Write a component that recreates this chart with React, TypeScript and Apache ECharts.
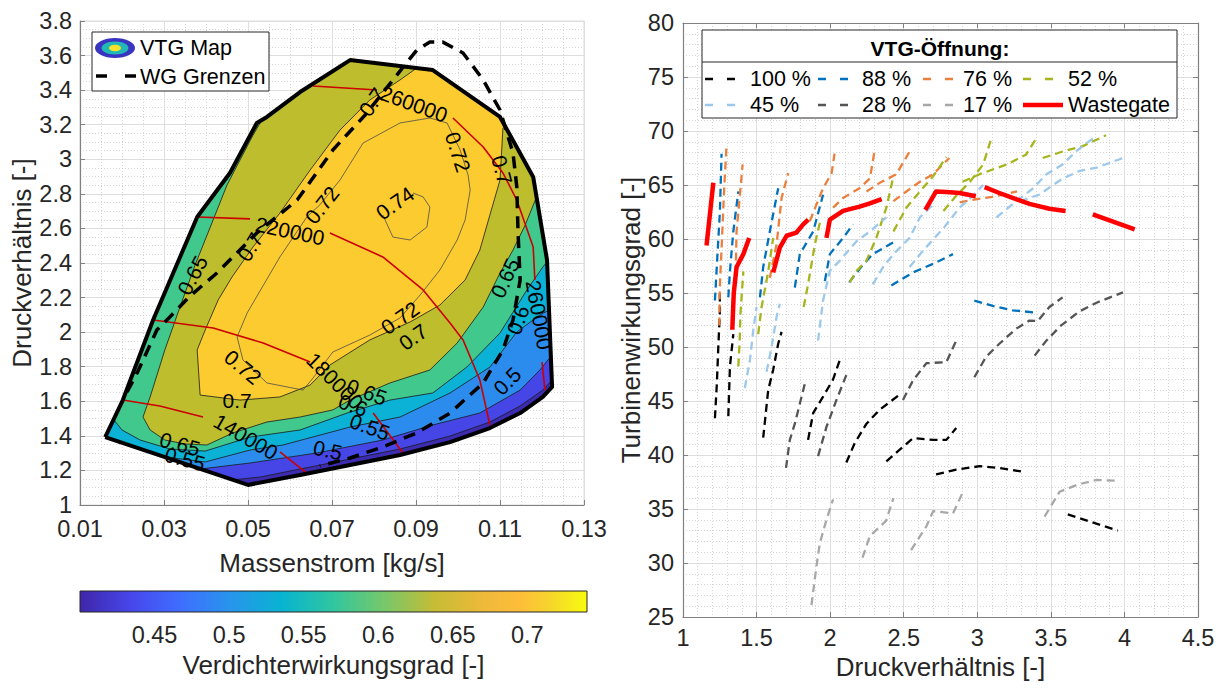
import React, { useEffect, useRef } from "react";
import * as echarts from "echarts";

const FONT = "'Liberation Sans', Arial, Helvetica, sans-serif";
const TXT = "#262626";

// ---------- LEFT: compressor map (Massenstrom [kg/s], Druckverhältnis [-]) ----------
const boundary: number[][] = [
  [0.016, 1.393], [0.0202, 1.607], [0.0274, 2.07], [0.0379, 2.666], [0.0457, 2.921],
  [0.0521, 3.21], [0.0545, 3.245], [0.0624, 3.389], [0.0743, 3.574], [0.094, 3.516],
  [0.11, 3.245], [0.1179, 2.898], [0.1212, 2.417], [0.1224, 1.683], [0.1202, 1.625],
  [0.1148, 1.532], [0.1076, 1.445], [0.0981, 1.364], [0.0862, 1.289], [0.0743, 1.231],
  [0.0624, 1.174], [0.05, 1.116],
];

const line45: number[][] = [
  [0.1224, 1.723], [0.1202, 1.665], [0.1148, 1.573], [0.1076, 1.48], [0.0981, 1.399],
  [0.0862, 1.324], [0.0743, 1.266], [0.0624, 1.208], [0.0529, 1.162], [0.0462, 1.145],
];
const line50: number[][] = [
  [0.1224, 1.868], [0.1195, 1.781], [0.1148, 1.665], [0.1052, 1.532], [0.094, 1.463],
  [0.0821, 1.376], [0.0664, 1.301], [0.0505, 1.243], [0.0386, 1.208],
];
const line55: number[][] = [
  [0.1217, 2.128], [0.1195, 2.099], [0.114, 2.001], [0.1076, 1.798], [0.0981, 1.648],
  [0.0862, 1.509], [0.0743, 1.451], [0.0583, 1.347], [0.0505, 1.318], [0.0398, 1.249],
  [0.0302, 1.278],
];
const line60: number[][] = [
  [0.1212, 2.406], [0.1202, 2.377], [0.1164, 2.244], [0.11, 1.995], [0.1021, 1.798],
  [0.094, 1.648], [0.0838, 1.607], [0.0736, 1.532], [0.0624, 1.434], [0.0505, 1.393],
  [0.0398, 1.312], [0.0314, 1.324], [0.0243, 1.376], [0.02, 1.434], [0.0181, 1.492],
];
const line65: number[][] = [
  [0.1186, 2.776], [0.116, 2.62], [0.1131, 2.475], [0.11, 2.342], [0.106, 2.145],
  [0.0998, 1.937], [0.0933, 1.781], [0.0838, 1.706], [0.0743, 1.607], [0.0702, 1.55],
  [0.0624, 1.509], [0.0545, 1.48], [0.0464, 1.417], [0.0402, 1.347], [0.035, 1.353],
  [0.0302, 1.376], [0.0267, 1.434], [0.025, 1.509], [0.0267, 1.625], [0.0302, 1.897],
  [0.0338, 2.145], [0.0374, 2.388], [0.0417, 2.649], [0.045, 2.851], [0.0481, 2.996],
  [0.0512, 3.14], [0.0533, 3.227],
];
const region70: number[][] = [
  [0.0902, 3.528], [0.094, 3.516], [0.11, 3.245], [0.1107, 3.181], [0.11, 2.88],
  [0.1076, 2.678], [0.1052, 2.475], [0.1017, 2.302], [0.0957, 2.157], [0.0886, 2.059],
  [0.079, 1.955], [0.0695, 1.81], [0.0648, 1.694], [0.0576, 1.625], [0.0481, 1.607],
  [0.0386, 1.636], [0.0379, 1.897], [0.0398, 2.012], [0.0429, 2.186], [0.0462, 2.319],
  [0.0512, 2.493], [0.0576, 2.689], [0.0648, 2.938], [0.0719, 3.169], [0.079, 3.343],
  [0.0862, 3.459],
];
const loop72: number[][] = [
  [0.0498, 2.111], [0.0474, 1.972], [0.0488, 1.839], [0.0545, 1.706], [0.0631, 1.665],
  [0.0655, 1.735], [0.0702, 1.885], [0.079, 1.983], [0.0862, 2.082], [0.091, 2.215],
  [0.0957, 2.36], [0.0998, 2.533], [0.1017, 2.649], [0.1029, 2.822], [0.1024, 2.909],
  [0.1005, 3.054], [0.0974, 3.21], [0.0933, 3.239], [0.0862, 3.21], [0.0774, 3.094],
  [0.0719, 2.88], [0.0671, 2.736], [0.064, 2.666], [0.0576, 2.435], [0.0498, 2.111],
];
const loop74: number[][] = [
  [0.0821, 2.678], [0.0845, 2.55], [0.0886, 2.533], [0.0926, 2.608], [0.0933, 2.724],
  [0.0917, 2.782], [0.0893, 2.805],
];
const wgLimit: number[][] = [
  [0.0212, 1.654], [0.0236, 1.764], [0.0283, 2.012], [0.0314, 2.088], [0.0362, 2.209],
  [0.0426, 2.342], [0.0521, 2.574], [0.0617, 2.764], [0.0702, 3.054], [0.0779, 3.256],
  [0.0845, 3.459], [0.0902, 3.632], [0.0933, 3.678], [0.0964, 3.678], [0.1012, 3.615],
  [0.106, 3.459], [0.11, 3.285], [0.1131, 3.036], [0.114, 2.84], [0.1143, 2.574],
  [0.1148, 2.302], [0.1131, 2.07], [0.1107, 1.897], [0.106, 1.706], [0.0981, 1.532],
  [0.0902, 1.417], [0.0821, 1.336], [0.0743, 1.272], [0.0671, 1.226],
];
const speed140k: number[][][] = [
  [[0.0202, 1.607], [0.029, 1.573], [0.0393, 1.509]],
  [[0.0576, 1.307], [0.064, 1.185]],
];
const speed180k: number[][][] = [
  [[0.0274, 2.07], [0.0417, 2.024], [0.0536, 1.937], [0.0648, 1.827]],
  [[0.0798, 1.532], [0.0869, 1.301]],
];
const speed220k: number[][][] = [
  [[0.0379, 2.666], [0.0505, 2.655]],
  [[0.0695, 2.574], [0.0821, 2.435], [0.0917, 2.244], [0.0981, 2.053], [0.1012, 1.955], [0.1052, 1.723], [0.1076, 1.463]],
];
const speed260k: number[][][] = [
  [[0.0655, 3.424], [0.0807, 3.401]],
  [[0.0988, 3.239], [0.106, 3.071], [0.1107, 2.921], [0.114, 2.764], [0.1179, 2.493], [0.1183, 2.302]],
  [[0.12, 1.827], [0.1207, 1.665]],
];
const mapLabelText = [
  "0.65", "0.7", "0.72", "0.74", "0.7", "0.72", "0.7", "0.72", "0.7", "0.72", "0.7",
  "0.65", "0.55", "0.65", "0.6", "0.55", "0.5", "0.5", "0.65", "0.6",
  "140000", "180000", "220000", "260000", "260000",
];
const mapLabelPos: number[][] = [
  [0.0368, 2.33, 62], [0.0505, 2.493, 58], [0.0676, 2.736, 52], [0.085, 2.747, 35],
  [0.0795, 3.331, 55], [0.1, 3.042, -72], [0.1105, 2.938, -75], [0.0862, 2.082, 35],
  [0.0893, 1.972, 35], [0.0488, 1.798, -40], [0.0474, 1.607, 0],
  [0.0338, 1.353, -15], [0.035, 1.266, -15], [0.0783, 1.654, -20], [0.075, 1.578, -20],
  [0.079, 1.451, -20], [0.069, 1.318, -12], [0.1117, 1.717, 45], [0.1112, 2.313, 65],
  [0.1143, 2.07, 70],
  [0.0495, 1.395, -30], [0.0707, 1.717, -45], [0.06, 2.585, -12], [0.0895, 3.32, -20],
  [0.1193, 2.099, -80],
];
const bandColors = ["#3D2BB0", "#4646E6", "#2B8CEE", "#0BB2D6", "#41C88C", "#BDBD2E", "#FBCB2F"];
const cbarTicks = [0.45, 0.5, 0.55, 0.6, 0.65, 0.7];
const parulaStops: [number, string][] = [
  [0, "#3E26A8"], [0.1, "#4746EB"], [0.2, "#3E6FFF"], [0.3, "#2796EB"], [0.4, "#08B4D0"],
  [0.5, "#31C69F"], [0.6, "#76C86A"], [0.7, "#C6BC35"], [0.8, "#F0B93A"], [0.87, "#FEBE3A"],
  [0.93, "#F5D72A"], [1, "#F9FB0E"],
];

// ---------- RIGHT: turbine efficiency vs pressure ratio ----------
const vtg100: number[][][] = [
  [[1.217, 43.4], [1.23, 46.6], [1.24, 50.0], [1.251, 53.4], [1.25, 55.3]],
  [[1.308, 43.6], [1.319, 48.2], [1.342, 51.2]],
  [[1.545, 41.6], [1.579, 46.0], [1.613, 47.9], [1.647, 50.3], [1.67, 51.4]],
  [[1.85, 41.4], [1.885, 43.9], [1.952, 45.4], [2.02, 47.0], [2.066, 48.8]],
  [[2.11, 39.3], [2.167, 41.1], [2.247, 42.9], [2.337, 44.2], [2.473, 45.6]],
  [[2.382, 39.4], [2.473, 40.5], [2.563, 41.56], [2.7, 41.4], [2.79, 41.4], [2.857, 42.5]],
  [[2.72, 38.2], [2.857, 38.65], [3.016, 38.96], [3.15, 38.8], [3.33, 38.4]],
  [[3.615, 34.5], [3.76, 33.86], [3.955, 33.0]],
];
const vtg88: number[][][] = [
  [[1.217, 54.3], [1.228, 57.0], [1.251, 62.6], [1.262, 67.9]],
  [[1.308, 54.6], [1.319, 57.0], [1.342, 60.7], [1.376, 64.4]],
  [[1.523, 54.6], [1.545, 57.4], [1.59, 60.7], [1.647, 64.7]],
  [[1.76, 55.5], [1.794, 58.6], [1.885, 60.7], [1.952, 64.1]],
  [[1.964, 56.1], [1.998, 58.6], [2.088, 60.1], [2.156, 61.35]],
  [[2.13, 56.0], [2.21, 57.4], [2.29, 58.6], [2.43, 59.7]],
  [[2.416, 55.7], [2.563, 56.9], [2.7, 57.7], [2.835, 58.6]],
  [[2.98, 54.3], [3.106, 53.8], [3.24, 53.4], [3.39, 53.2]],
];
const vtg76: number[][][] = [
  [[1.247, 52.0], [1.25, 55.5], [1.265, 60.0], [1.28, 64.7], [1.296, 68.7]],
  [[1.36, 58.0], [1.364, 60.7], [1.387, 64.1], [1.405, 66.9]],
  [[1.59, 56.4], [1.636, 59.5], [1.67, 63.8], [1.715, 66.1]],
  [[1.862, 61.65], [1.907, 63.2], [1.952, 64.7], [2.01, 66.1], [2.03, 67.9]],
  [[2.02, 62.9], [2.088, 63.8], [2.2, 64.7], [2.27, 65.6], [2.303, 68.25]],
  [[2.247, 64.4], [2.337, 65.2], [2.45, 66.0], [2.54, 68.1]],
  [[2.43, 63.5], [2.518, 64.4], [2.61, 65.3], [2.7, 66.0], [2.81, 67.5]],
  [[2.88, 63.4], [3.0, 63.7], [3.1, 63.9], [3.27, 64.4]],
];
const vtg52: number[][][] = [
  [[1.376, 48.2], [1.385, 50.5], [1.39, 53.0], [1.4, 55.0], [1.41, 57.0]],
  [[1.511, 51.2], [1.534, 53.7], [1.58, 57.05], [1.613, 60.1]],
  [[1.82, 53.7], [1.85, 55.8], [1.896, 59.5], [1.93, 61.5]],
  [[2.133, 56.0], [2.18, 57.05], [2.247, 58.0], [2.314, 60.1], [2.382, 62.9], [2.43, 65.8]],
  [[2.43, 60.7], [2.518, 62.9], [2.61, 64.4], [2.7, 65.8], [2.79, 67.6]],
  [[2.77, 62.6], [2.857, 64.0], [2.95, 65.3], [3.04, 66.9], [3.095, 69.3]],
  [[2.9, 65.3], [3.016, 66.0], [3.2, 66.9], [3.33, 67.8], [3.41, 69.5]],
  [[3.445, 67.5], [3.58, 68.1], [3.717, 68.6], [3.875, 69.6]],
];
const vtg45: number[][][] = [
  [[1.42, 46.2], [1.455, 48.8], [1.477, 51.5], [1.5, 53.7]],
  [[1.568, 47.7], [1.602, 50.0], [1.636, 52.8], [1.658, 54.0]],
  [[1.918, 50.6], [1.952, 54.3], [1.998, 57.05], [2.066, 58.0], [2.18, 59.8], [2.27, 60.7], [2.382, 62.0]],
  [[2.29, 55.8], [2.36, 57.4], [2.43, 58.6], [2.54, 60.1], [2.61, 62.0], [2.7, 63.2]],
  [[2.54, 57.4], [2.63, 58.9], [2.77, 61.0], [2.88, 62.9], [2.97, 64.0], [3.04, 65.0]],
  [[3.13, 62.0], [3.265, 63.5], [3.38, 64.7], [3.47, 66.0], [3.58, 66.9], [3.67, 68.1], [3.785, 69.3]],
  [[3.29, 63.5], [3.42, 64.1], [3.58, 65.6], [3.695, 66.3], [3.81, 66.6], [3.99, 67.5]],
];
const vtg28: number[][][] = [
  [[1.7, 38.8], [1.726, 41.4], [1.76, 42.9], [1.828, 46.6]],
  [[1.918, 39.9], [1.975, 42.6], [2.043, 45.1], [2.11, 47.4]],
  [[2.495, 45.1], [2.563, 46.9], [2.654, 48.5], [2.79, 48.6], [2.857, 50.6]],
  [[2.98, 47.2], [3.06, 49.1], [3.15, 50.3], [3.265, 51.7], [3.355, 52.45], [3.41, 52.4], [3.49, 53.7], [3.58, 54.6]],
  [[3.39, 49.2], [3.47, 50.6], [3.57, 52.0], [3.695, 53.3], [3.81, 54.1], [3.99, 55.06]],
];
const vtg17: number[][][] = [
  [[1.873, 26.1], [1.907, 29.7], [1.93, 31.85], [1.975, 34.0], [2.02, 35.9]],
  [[2.22, 30.5], [2.27, 32.5], [2.38, 33.9], [2.43, 36.0]],
  [[2.55, 31.2], [2.654, 33.4], [2.7, 34.8], [2.835, 34.6], [2.9, 36.5]],
  [[3.457, 34.3], [3.56, 36.6], [3.68, 37.25], [3.81, 37.7], [3.966, 37.6]],
];
const wastegate: number[][][] = [
  [[1.16, 59.4], [1.206, 65.2]],
  [[1.335, 51.6], [1.345, 55.0], [1.364, 57.4], [1.41, 58.6], [1.45, 60.1]],
  [[1.613, 56.9], [1.658, 59.2], [1.704, 60.3], [1.771, 60.6], [1.817, 61.35], [1.851, 61.8]],
  [[1.975, 60.1], [1.998, 61.8], [2.088, 62.6], [2.2, 63.0], [2.27, 63.3], [2.35, 63.7]],
  [[2.647, 62.7], [2.72, 64.4], [2.79, 64.35], [2.88, 64.26], [2.99, 63.96]],
  [[3.05, 64.8], [3.15, 64.26], [3.24, 63.8], [3.355, 63.25], [3.49, 62.8], [3.6, 62.6]],
  [[3.785, 62.27], [4.07, 60.9]],
];
const legendNames = ["100 %", "88 %", "76 %", "52 %", "45 %", "28 %", "17 %", "Wastegate"];
const legendColors = ["#000000", "#0072BD", "#EB7F3C", "#A5B51B", "#9CC8EB", "#555555", "#A8A8A8", "#FF0000"];

function lineSeries(pts: number[][], color: string, width: number, type: any, xi: number, yi: number, z = 5) {
  return {
    type: "line", xAxisIndex: xi, yAxisIndex: yi, data: pts, showSymbol: false, symbol: "none",
    lineStyle: { color, width, type, cap: "butt", join: "round" }, z, silent: true,
  };
}

function buildOption() {
  const regions = [
    boundary,
    [...boundary.slice(0, 13), ...line45],
    [...boundary.slice(0, 13), ...line50],
    [...boundary.slice(0, 13), ...line55],
    [...boundary.slice(1, 13), ...line60],
    [...boundary.slice(6, 12), ...line65],
    region70,
  ];
  const line70 = [...region70.slice(3), region70[0]];
  const series: any[] = [];
  series.push({
    type: "custom", coordinateSystem: "cartesian2d", xAxisIndex: 0, yAxisIndex: 0, silent: true, z: 2,
    data: regions.map((r) => r[0]),
    renderItem: (params: any, api: any) => {
      const r = regions[params.dataIndex];
      return { type: "polygon", shape: { points: r.map((p) => api.coord(p)) }, style: { fill: bandColors[params.dataIndex], stroke: null } };
    },
  });
  [line45, line50, line55, line60, line65, line70].forEach((l) => series.push(lineSeries(l, "#1a1a1a", 0.8, "solid", 0, 0, 3)));
  [loop72, loop74].forEach((l) => series.push(lineSeries(l, "#4d4d4d", 0.8, "solid", 0, 0, 3)));
  [speed140k, speed180k, speed220k, speed260k].forEach((s) => s.forEach((seg) => series.push(lineSeries(seg, "#CC0000", 1.6, "solid", 0, 0, 4))));
  series.push(lineSeries(wgLimit, "#000", 3.5, [12, 8], 0, 0, 6));
  series.push(lineSeries([...boundary, boundary[0]], "#000", 4, "solid", 0, 0, 7));
  series.push({
    type: "custom", coordinateSystem: "cartesian2d", xAxisIndex: 0, yAxisIndex: 0, silent: true, z: 8,
    data: mapLabelPos.map((p) => [p[0], p[1]]),
    renderItem: (params: any, api: any) => {
      const p = mapLabelPos[params.dataIndex];
      const c = api.coord([p[0], p[1]]);
      return {
        type: "text", x: c[0], y: c[1], rotation: (p[2] * Math.PI) / 180,
        style: { text: mapLabelText[params.dataIndex], fill: "#000", fontSize: 21, fontFamily: FONT, align: "center", verticalAlign: "middle", textAlign: "center", textVerticalAlign: "middle" },
      };
    },
  });
  // colorbar
  series.push({
    type: "custom", coordinateSystem: "cartesian2d", xAxisIndex: 2, yAxisIndex: 2, silent: true, z: 2,
    data: [[0.4, 0]],
    renderItem: (params: any, api: any) => {
      const a = api.coord([0.4, 1]);
      const b = api.coord([0.74, 0]);
      return {
        type: "rect", shape: { x: a[0], y: a[1], width: b[0] - a[0], height: b[1] - a[1] },
        style: { fill: new echarts.graphic.LinearGradient(0, 0, 1, 0, parulaStops.map(([o, c]) => ({ offset: o, color: c }))), stroke: "#262626", lineWidth: 1 },
      };
    },
  });
  // right plot
  const groups = [vtg100, vtg88, vtg76, vtg52, vtg45, vtg28, vtg17];
  groups.forEach((g, gi) => g.forEach((c) => series.push(lineSeries(c, legendColors[gi], 2.3, [8, 5], 1, 1, 5))));
  wastegate.forEach((c) => series.push(lineSeries(c, "#FF0000", 4.5, "solid", 1, 1, 6)));

  const TICK = 23.5;
  const TITLE = 26;
  const axisLabel = { color: TXT, fontSize: TICK, fontFamily: FONT };
  const nameStyle = { color: TXT, fontSize: TITLE, fontFamily: FONT };
  const major = { show: true, lineStyle: { color: "#dedede", width: 1 } };
  const minor = { show: true, lineStyle: { color: "#d6d6d6", width: 1, type: [1, 2] } };
  const axLine = { show: true, onZero: false, lineStyle: { color: "#808080", width: 1.2 } };
  const tickIn = { show: true, inside: true, length: 5, lineStyle: { color: "#808080" } };

  const g: any[] = [];
  // left legend
  g.push({ type: "rect", shape: { x: 92, y: 32, width: 177, height: 59 }, style: { fill: "#fff", stroke: "#262626", lineWidth: 1 }, z: 100 });
  g.push({ type: "ellipse", shape: { cx: 115, cy: 48, rx: 20, ry: 10 }, style: { fill: "#3A35C0" }, z: 101 });
  g.push({ type: "ellipse", shape: { cx: 115, cy: 48, rx: 13.5, ry: 6.5 }, style: { fill: "#22B8B8" }, z: 102 });
  g.push({ type: "ellipse", shape: { cx: 115, cy: 48, rx: 6, ry: 3.2 }, style: { fill: "#F5E32A" }, z: 103 });
  g.push({ type: "line", shape: { x1: 96, y1: 76, x2: 107, y2: 76 }, style: { stroke: "#000", lineWidth: 3.5 }, z: 101 });
  g.push({ type: "line", shape: { x1: 125, y1: 76, x2: 136, y2: 76 }, style: { stroke: "#000", lineWidth: 3.5 }, z: 101 });
  g.push({ type: "text", x: 140, y: 48, style: { text: "VTG Map", fill: "#000", fontSize: 21.5, fontFamily: FONT, verticalAlign: "middle", textVerticalAlign: "middle" }, z: 101 });
  g.push({ type: "text", x: 140, y: 77, style: { text: "WG Grenzen", fill: "#000", fontSize: 21.5, fontFamily: FONT, verticalAlign: "middle", textVerticalAlign: "middle" }, z: 101 });
  // right legend
  g.push({ type: "rect", shape: { x: 702, y: 30, width: 475, height: 88 }, style: { fill: "#fff", stroke: "#262626", lineWidth: 1 }, z: 100 });
  g.push({ type: "line", shape: { x1: 702, y1: 62, x2: 1177, y2: 62 }, style: { stroke: "#262626", lineWidth: 1 }, z: 101 });
  g.push({ type: "text", x: 940, y: 48, style: { text: "VTG-Öffnung:", fill: "#000", fontSize: 21, fontWeight: "bold", fontFamily: FONT, align: "center", textAlign: "center", verticalAlign: "middle", textVerticalAlign: "middle" }, z: 101 });
  const lx = [705, 818, 923, 1023];
  const tx = [750, 862, 963, 1068];
  const ry = [79, 105];
  legendNames.forEach((nm, i) => {
    const col = i % 4, row = Math.floor(i / 4);
    const isWG = i === 7;
    g.push({
      type: "line", shape: { x1: lx[col], y1: ry[row], x2: lx[col] + (isWG ? 40 : 30), y2: ry[row] },
      style: { stroke: legendColors[i], lineWidth: isWG ? 4.5 : 2.5, lineDash: isWG ? null : [8, 14] }, z: 101,
    });
    g.push({ type: "text", x: tx[col], y: ry[row], style: { text: nm, fill: "#000", fontSize: 21.5, fontFamily: FONT, verticalAlign: "middle", textVerticalAlign: "middle" }, z: 101 });
  });

  return {
    animation: false,
    backgroundColor: "#fff",
    textStyle: { fontFamily: FONT },
    grid: [
      { left: 80, top: 21, width: 504, height: 484, show: true, borderColor: "#dcdcdc", borderWidth: 1 },
      { left: 683, top: 23, width: 515, height: 594 },
      { left: 80, top: 591, width: 507, height: 21 },
    ],
    xAxis: [
      {
        type: "value", gridIndex: 0, min: 0.01, max: 0.13, interval: 0.02,
        axisLine: axLine, axisTick: tickIn, axisLabel: { ...axisLabel, margin: 12 },
        splitLine: major, minorTick: { show: false, splitNumber: 4 }, minorSplitLine: minor,
        name: "Massenstrom [kg/s]", nameLocation: "middle", nameGap: 45, nameTextStyle: nameStyle,
      },
      {
        type: "value", gridIndex: 1, min: 1, max: 4.5, interval: 0.5,
        axisLine: axLine, axisTick: tickIn, axisLabel: { ...axisLabel, margin: 8.5 },
        splitLine: major, minorTick: { show: false, splitNumber: 5 }, minorSplitLine: minor,
        name: "Druckverhältnis [-]", nameLocation: "middle", nameGap: 35, nameTextStyle: nameStyle,
      },
      {
        type: "value", gridIndex: 2, min: 0.4, max: 0.74, interval: 0.05,
        axisLine: { show: false }, axisTick: { show: true, inside: true, length: 4, lineStyle: { color: "#555" } },
        axisLabel: { ...axisLabel, margin: 11, showMinLabel: false, showMaxLabel: false, formatter: (v: number) => (cbarTicks.some((t) => Math.abs(t - v) < 1e-6) ? String(+v.toFixed(2)) : "") },
        splitLine: { show: false },
        name: "Verdichterwirkungsgrad [-]", nameLocation: "middle", nameGap: 40, nameTextStyle: nameStyle,
      },
      {
        type: "value", gridIndex: 1, min: 1, max: 4.5, interval: 0.5, position: "top",
        axisLine: axLine, axisTick: tickIn, axisLabel: { show: false }, splitLine: { show: false },
      },
    ],
    yAxis: [
      {
        type: "value", gridIndex: 0, min: 1, max: 3.8, interval: 0.2,
        axisLine: axLine, axisTick: tickIn, axisLabel: { ...axisLabel, margin: 8 },
        splitLine: major, minorTick: { show: false, splitNumber: 4 }, minorSplitLine: minor,
        name: "Druckverhältnis [-]", nameLocation: "middle", nameGap: 39, nameRotate: 90, nameTextStyle: nameStyle,
      },
      {
        type: "value", gridIndex: 1, min: 25, max: 80, interval: 5,
        axisLine: axLine, axisTick: tickIn, axisLabel: { ...axisLabel, margin: 9 },
        splitLine: major, minorTick: { show: false, splitNumber: 5 }, minorSplitLine: minor,
        name: "Turbinenwirkungsgrad [-]", nameLocation: "middle", nameGap: 38, nameRotate: 90, nameTextStyle: nameStyle,
      },
      { type: "value", gridIndex: 2, min: 0, max: 1, show: false },
      {
        type: "value", gridIndex: 1, min: 25, max: 80, interval: 5, position: "right",
        axisLine: axLine, axisTick: tickIn, axisLabel: { show: false }, splitLine: { show: false },
      },
    ],
    graphic: { elements: g },
    series,
  };
}

export default function App() {
  const ref = useRef<HTMLDivElement>(null);
  useEffect(() => {
    if (!ref.current) return;
    const chart = echarts.init(ref.current, null, { renderer: "svg" });
    chart.setOption(buildOption() as any);
    return () => chart.dispose();
  }, []);
  return <div ref={ref} style={{ position: "fixed", left: 0, top: 0, width: 1223, height: 688, background: "#fff" }} />;
}
